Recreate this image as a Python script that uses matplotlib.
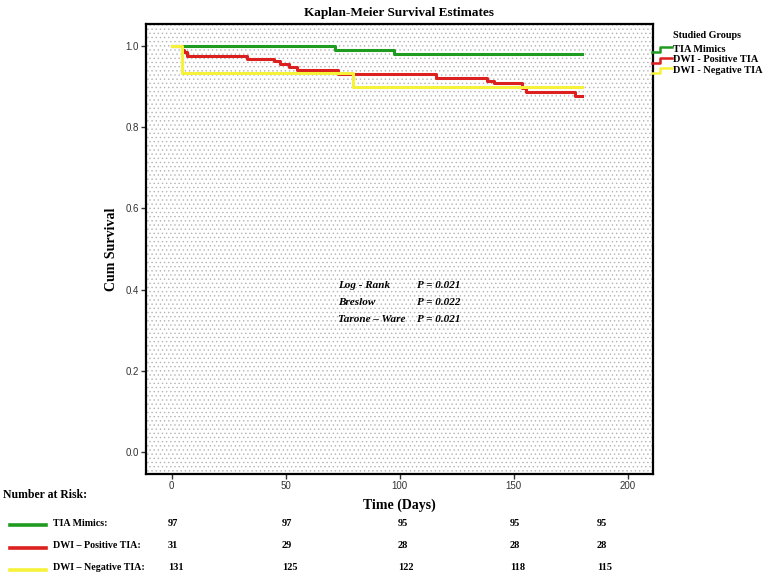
import matplotlib.pyplot as plt
from matplotlib.patches import Rectangle
from matplotlib.lines import Line2D
from matplotlib.transforms import blended_transform_factory

# ---- data ----
groups = ["TIA Mimics", "DWI - Positive TIA", "DWI - Negative TIA"]
colors = ["#1f9c1f", "#dc1f1f", "#f6f23a"]

mimic_t = [0, 71.5, 97.3, 180]
mimic_s = [1.0, 0.989, 0.979, 0.979]

pos_t = [0, 4.5, 5.5, 6.5, 33, 45, 47.5, 51.5, 55, 73, 116, 138.5, 141.5, 153.5, 155.5, 177, 180]
pos_s = [1.0, 0.990, 0.983, 0.975, 0.967, 0.961, 0.954, 0.947, 0.940, 0.930, 0.921, 0.914,
         0.907, 0.895, 0.885, 0.876, 0.876]

neg_t = [0, 4.4, 79.6, 180]
neg_s = [1.0, 0.932, 0.899, 0.899]

risk_labels = ["TIA Mimics:", "DWI \u2013 Positive TIA:", "DWI \u2013 Negative TIA:"]
risk_mimic = [97, 97, 95, 95, 95]
risk_pos = [31, 29, 28, 28, 28]
risk_neg = [131, 125, 122, 118, 115]

tests = ["Log - Rank", "Breslow", "Tarone \u2013 Ware"]
pvals = ["P = 0.021", "P = 0.022", "P = 0.021"]

# layout
W, H = 767, 577
risk_x = [-1.6, 48.4, 99.3, 148.4, 186.5]
serif = "Liberation Serif"
sans = "Liberation Sans"


def fx(px):
    return px / W


def fy(py):
    return 1 - py / H


plt.rcParams['hatch.linewidth'] = 0.5
fig = plt.figure(figsize=(W / 100, H / 100), dpi=100)
ax = fig.add_axes([fx(145.7), fy(474), (652.7 - 145.7) / W, (474 - 24) / H])

# stippled background
bg = Rectangle((0, 0), 1, 1, transform=ax.transAxes, facecolor="white",
               edgecolor="#b4b4b4", hatch="....", linewidth=0, zorder=0)
ax.add_patch(bg)

series = [(mimic_t, mimic_s), (pos_t, pos_s), (neg_t, neg_s)]
for (t, s), c, g in zip(series, colors, groups):
    ax.step(t, s, where="post", color=c, lw=2.2, label=g, zorder=3)

ax.set_xlim(-11.4, 211)
ax.set_ylim(-0.053, 1.053)
ax.set_xticks([0, 50, 100, 150, 200])
ax.set_yticks([0.0, 0.2, 0.4, 0.6, 0.8, 1.0])
ax.set_yticklabels(["0.0", "0.2", "0.4", "0.6", "0.8", "1.0"])
ax.tick_params(direction="out", length=3.5, width=1, color="#333333",
               labelsize=7, labelcolor="#333333", pad=1.5)
for lab in ax.get_xticklabels() + ax.get_yticklabels():
    lab.set_fontfamily(sans)
for sp in ax.spines.values():
    sp.set_linewidth(1.6)
    sp.set_color("black")

ax.set_title("Kaplan-Meier Survival Estimates", fontfamily=serif, fontweight="bold",
             fontsize=9.5, pad=6)
ax.set_ylabel("Cum Survival", fontfamily=serif, fontweight="bold", fontsize=10, labelpad=5)
fig.text(fx(399), fy(505), "Time (Days)", fontfamily=serif, fontweight="bold",
         fontsize=10, ha="center", va="center")

# test statistics
for i, (name, p) in enumerate(zip(tests, pvals)):
    yy = fy(285 + i * 17.5)
    fig.text(fx(338), yy, name, fontfamily=serif, fontweight="bold", style="italic",
             fontsize=8, va="center")
    fig.text(fx(416.7), yy, p, fontfamily=serif, fontweight="bold", style="italic",
             fontsize=8, va="center")

# legend on the right
fig.text(fx(673), fy(35), "Studied Groups", fontfamily=serif, fontweight="bold",
         fontsize=7.3, va="center")
for i, (g, c) in enumerate(zip(groups, colors)):
    yc = 49.3 + i * 10.5
    fig.text(fx(673), fy(yc), g, fontfamily=serif, fontweight="bold", fontsize=7.4, va="center")
    fig.add_artist(Line2D([fx(652), fx(660), fx(660), fx(672)],
                          [fy(yc + 3), fy(yc + 3), fy(yc - 2), fy(yc - 2)],
                          color=c, lw=1.8))

# number at risk table
fig.text(fx(3), fy(495), "Number at Risk:", fontfamily=serif, fontweight="bold",
         fontsize=8.5, va="center")
trans = blended_transform_factory(ax.transData, fig.transFigure)
for i, (lab, vals, c) in enumerate(zip(risk_labels, [risk_mimic, risk_pos, risk_neg], colors)):
    yc = 523.3 + i * 22.2
    fig.add_artist(Line2D([fx(10), fx(46)], [fy(yc + 2), fy(yc + 2)], color=c, lw=2.6))
    fig.text(fx(52.7), fy(yc), lab, fontfamily=serif, fontweight="bold", fontsize=7.2,
             va="center")
    for xv, v in zip(risk_x, vals):
        fig.text(xv, fy(yc), str(v), transform=trans, fontfamily=serif, fontweight="bold",
                 fontsize=7.5, va="center", ha="left")

fig.savefig("out.png", dpi=100)
